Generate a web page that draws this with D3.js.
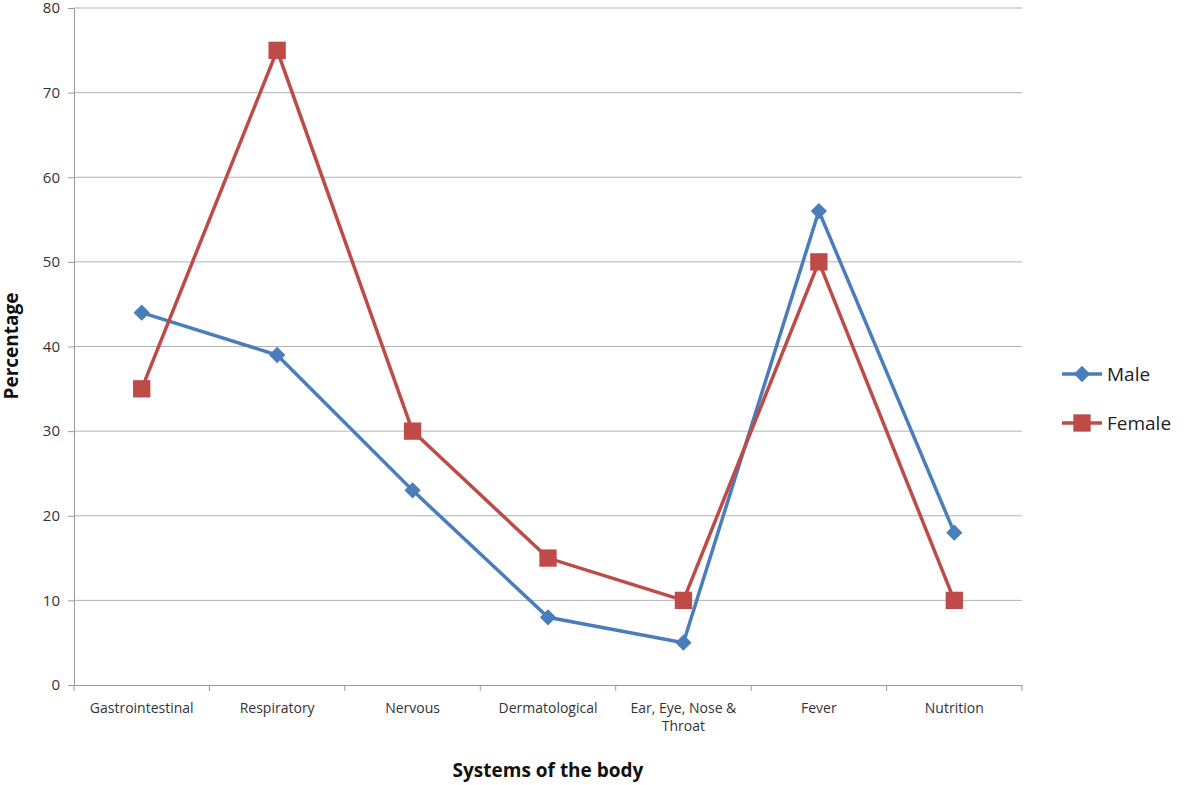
<!DOCTYPE html>
<html><head><meta charset="utf-8">
<script src="https://cdn.jsdelivr.net/npm/d3@7"></script>
<style>body{margin:0;background:#fff;font-family:"Open Sans","Liberation Sans",sans-serif}</style>
</head><body><svg id="c" width="1200" height="785"></svg>
<script>
const categories=["Gastrointestinal","Respiratory","Nervous","Dermatological","Ear, Eye, Nose & Throat","Fever","Nutrition"];
const male=[44,39,23,8,5,56,18];
const female=[35,75,30,15,10,50,10];
const yTicks=[0,10,20,30,40,50,60,70,80];
const svg=d3.select("#c");
const L=74,R=1022,T=8,B=685;
const x=d3.scaleBand().domain(categories).range([L,R]);
const y=d3.scaleLinear().domain([0,80]).range([B,T]);
svg.append("g").selectAll("line").data(yTicks.slice(1)).join("line")
 .attr("x1",L).attr("x2",R).attr("y1",d=>y(d)).attr("y2",d=>y(d)).attr("stroke","#b3b3b3").attr("stroke-width",1);
const ya=svg.append("g").attr("transform",`translate(${L},0)`).call(d3.axisLeft(y).tickValues(yTicks).tickSize(6).tickPadding(8));
ya.selectAll("text").attr("font-size",15).attr("fill","#333").attr("font-family","Open Sans, sans-serif");
ya.selectAll("line,path").attr("stroke","#999");
const xa=svg.append("g").attr("transform",`translate(0,${B})`).call(d3.axisBottom(x).tickSize(0).tickPadding(18));
xa.select("path").attr("stroke","#999");
xa.selectAll("text").attr("font-size",14).attr("fill","#333").attr("font-family","Open Sans, sans-serif")
 .each(function(d){ if(d.startsWith("Ear")){const t=d3.select(this);t.text(null);
   t.append("tspan").attr("x",0).attr("dy","0.71em").text("Ear, Eye, Nose &");
   t.append("tspan").attr("x",0).attr("dy","1.3em").text("Throat");}});
svg.append("g").selectAll("line").data(d3.range(categories.length+1)).join("line")
 .attr("x1",i=>L+i*x.bandwidth()).attr("x2",i=>L+i*x.bandwidth()).attr("y1",B).attr("y2",B+6).attr("stroke","#999");
const cx=d=>x(d)+x.bandwidth()/2;
const line=d3.line().x((d,i)=>cx(categories[i])).y(d=>y(d));
function series(vals,color,shape,size){
 svg.append("path").attr("d",line(vals)).attr("fill","none").attr("stroke",color).attr("stroke-width",3.5);
 svg.append("g").selectAll("path").data(vals).join("path")
  .attr("d",d3.symbol().type(shape).size(size)).attr("fill",color)
  .attr("transform",(d,i)=>`translate(${cx(categories[i])},${y(d)})${shape===d3.symbolDiamond2?"":""}`);
}
const blue="#4a7ebb",red="#be4b48";
series(male,blue,d3.symbolDiamond2,170);
series(female,red,d3.symbolSquare,300);
const leg=[["Male",blue,d3.symbolDiamond2,170,374],["Female",red,d3.symbolSquare,300,423]];
leg.forEach(([n,c,s,sz,yy])=>{
 svg.append("line").attr("x1",1062).attr("x2",1102).attr("y1",yy).attr("y2",yy).attr("stroke",c).attr("stroke-width",3.5);
 svg.append("path").attr("d",d3.symbol().type(s).size(sz)).attr("fill",c).attr("transform",`translate(1082,${yy})`);
 svg.append("text").attr("x",1107).attr("y",yy).attr("dy","0.35em").attr("font-size",19).attr("fill","#222").text(n);
});
svg.append("text").attr("x",548).attr("y",777).attr("text-anchor","middle").attr("font-size",19).attr("font-weight","bold").attr("fill","#111").text("Systems of the body");
svg.append("text").attr("transform","translate(18,346) rotate(-90)").attr("text-anchor","middle").attr("font-size",19).attr("font-weight","bold").attr("fill","#111").text("Percentage");
</script></body></html>
